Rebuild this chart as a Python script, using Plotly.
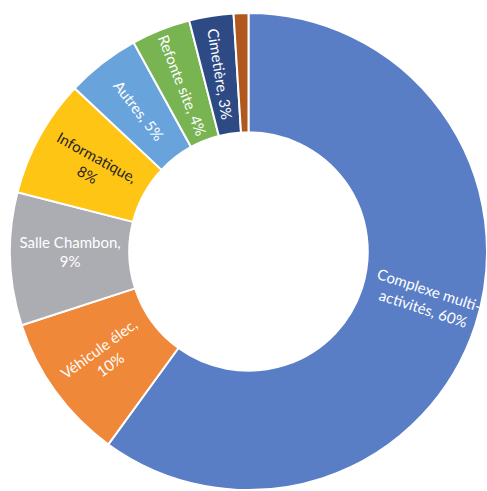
import math
import plotly.graph_objects as go

categories = ["Complexe multi-activités", "Véhicule élec", "Salle Chambon", "Informatique",
              "Autres", "Refonte site", "Cimetière", "Divers"]
values = [60, 10, 9, 8, 5, 4, 3, 1]
label_texts = ["Complexe multi-<br>activités, 60%", "Véhicule élec,<br>10%", "Salle Chambon,<br>9%",
               "Informatique,<br>8%", "Autres, 5%", "Refonte site, 4%", "Cimetière, 3%", ""]
colors = ["#5A7EC6", "#F0883A", "#ACACB3", "#FFC514", "#68A3DB", "#78B452", "#2E4A84", "#B0581E"]
text_colors = ["white", "white", "white", "#262626", "white", "white", "white", "white"]

W, H = 487, 491
ML, MT, MR, MB = 10, 12, 0, 0
HOLE = 0.5
FONT = "Lato, Open Sans, sans-serif"
FSIZE = 15

# the first (large) slice label is drawn as a rotated annotation along its radial direction
pie_texts = [""] + label_texts[1:]

fig = go.Figure(go.Pie(
    labels=categories,
    values=values,
    text=pie_texts,
    texttemplate="%{text}",
    textposition="inside",
    insidetextorientation="radial",
    textfont=dict(family=FONT, size=FSIZE, color=text_colors),
    marker=dict(colors=colors, line=dict(color="white", width=2)),
    hole=HOLE,
    sort=False,
    direction="clockwise",
    rotation=0,
    showlegend=False,
    hoverinfo="label+percent",
))

pw, ph = W - ML - MR, H - MT - MB
R = min(pw, ph) / 2
total = sum(values)
mid = values[0] / 2 / total * 2 * math.pi  # clockwise from top
pos_angle = mid - 0.05
rm = R * 0.77
ax = 0.5 + rm * math.sin(pos_angle) / pw
ay = 0.5 + rm * math.cos(pos_angle) / ph

fig.add_annotation(
    x=ax, y=ay, xref="paper", yref="paper",
    xanchor="center", yanchor="middle",
    text=label_texts[0], showarrow=False,
    textangle=math.degrees(mid) - 90,
    font=dict(family=FONT, size=FSIZE, color=text_colors[0]),
)

fig.update_layout(
    width=W, height=H,
    margin=dict(l=ML, r=MR, t=MT, b=MB),
    paper_bgcolor="white",
    plot_bgcolor="white",
    uniformtext=dict(minsize=FSIZE, mode="show"),
)

fig.write_html("out.html",
               config={"displayModeBar": False},
               post_script="document.body.style.margin='0';document.body.style.overflow='hidden';")
